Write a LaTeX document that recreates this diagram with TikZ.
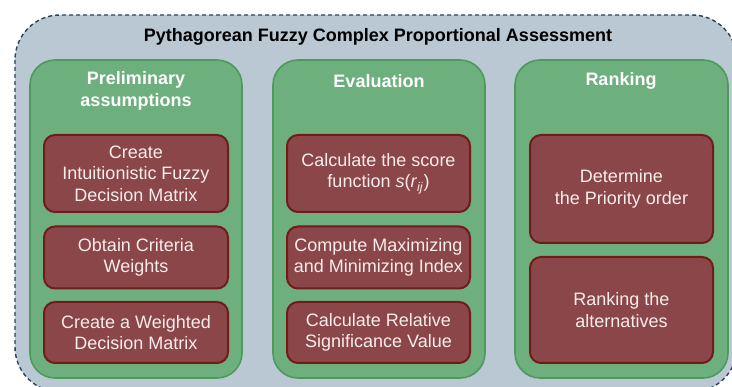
\documentclass[tikz,border=0pt]{standalone}
\usepackage{fontspec}
\setmainfont{Liberation Sans}
\definecolor{panelfill}{HTML}{BAC8D3}
\definecolor{panelline}{HTML}{23445D}
\definecolor{stagefill}{HTML}{6DAF7D}
\definecolor{stageline}{HTML}{4E9A5C}
\definecolor{taskfill}{HTML}{8B4649}
\definecolor{taskline}{HTML}{731B1B}
\definecolor{tasktext}{HTML}{F7EDED}
\tikzset{
  txt/.style={font=\fontsize{18}{21.6}\selectfont, align=center},
  panel/.style={draw=panelline, fill=panelfill, line width=1.4pt, dash pattern=on 4pt off 3pt, rounded corners=45pt},
  stage/.style={draw=stageline, fill=stagefill, line width=1.6pt, rounded corners=25pt},
  stagehead/.style={txt, font=\fontsize{18}{21.6}\selectfont\bfseries, text=white},
  task/.style={draw=taskline, fill=taskfill, line width=2pt, rounded corners=11pt, txt, text=tasktext, inner sep=0pt}
}
\begin{document}
\begin{tikzpicture}[x=1pt,y=-1pt]
\useasboundingbox (0,0) rectangle (732,387);
\clip (0,0) rectangle (732,387);
% outer frame
\draw[panel] (15,15) rectangle (737,392);
\node[txt, font=\fontsize{18}{21.6}\selectfont\bfseries] (title) at (378,37) {Pythagorean Fuzzy Complex Proportional Assessment};
% stage columns
\draw[stage] (30,60) rectangle (242,378);
\draw[stage] (273,60) rectangle (485,378);
\draw[stage] (515,60) rectangle (728,378);
\node[stagehead] (h1) at (136,91) {Preliminary\\assumptions};
\node[stagehead] (h2) at (379,81) {Evaluation};
\node[stagehead] (h3) at (621,81) {Ranking};
% preliminary assumptions
\node[task, minimum width=184pt, minimum height=77pt] (p1) at (136,173.5) {Create\\Intuitionistic Fuzzy\\Decision Matrix};
\node[task, minimum width=184pt, minimum height=62pt] (p2) at (136,257.5) {Obtain Criteria\\Weights};
\node[task, minimum width=184pt, minimum height=61pt] (p3) at (136,332.5) {Create a Weighted\\Decision Matrix};
% evaluation
\node[task, minimum width=183pt, minimum height=77pt] (e1) at (378.5,173.5) {Calculate the score\\function \textit{s}(\textit{r}\textsubscript{\textit{ij}})};
\node[task, minimum width=183pt, minimum height=62pt] (e2) at (378.5,257.5) {Compute Maximizing\\and Minimizing Index};
\node[task, minimum width=183pt, minimum height=61pt] (e3) at (378.5,332.5) {Calculate Relative\\Significance Value};
% ranking
\node[task, minimum width=183pt, minimum height=108pt] (r1) at (621.5,189) {Determine\\the Priority order};
\node[task, minimum width=183pt, minimum height=106pt] (r2) at (621.5,310) {Ranking the\\alternatives};
\end{tikzpicture}
\end{document}
